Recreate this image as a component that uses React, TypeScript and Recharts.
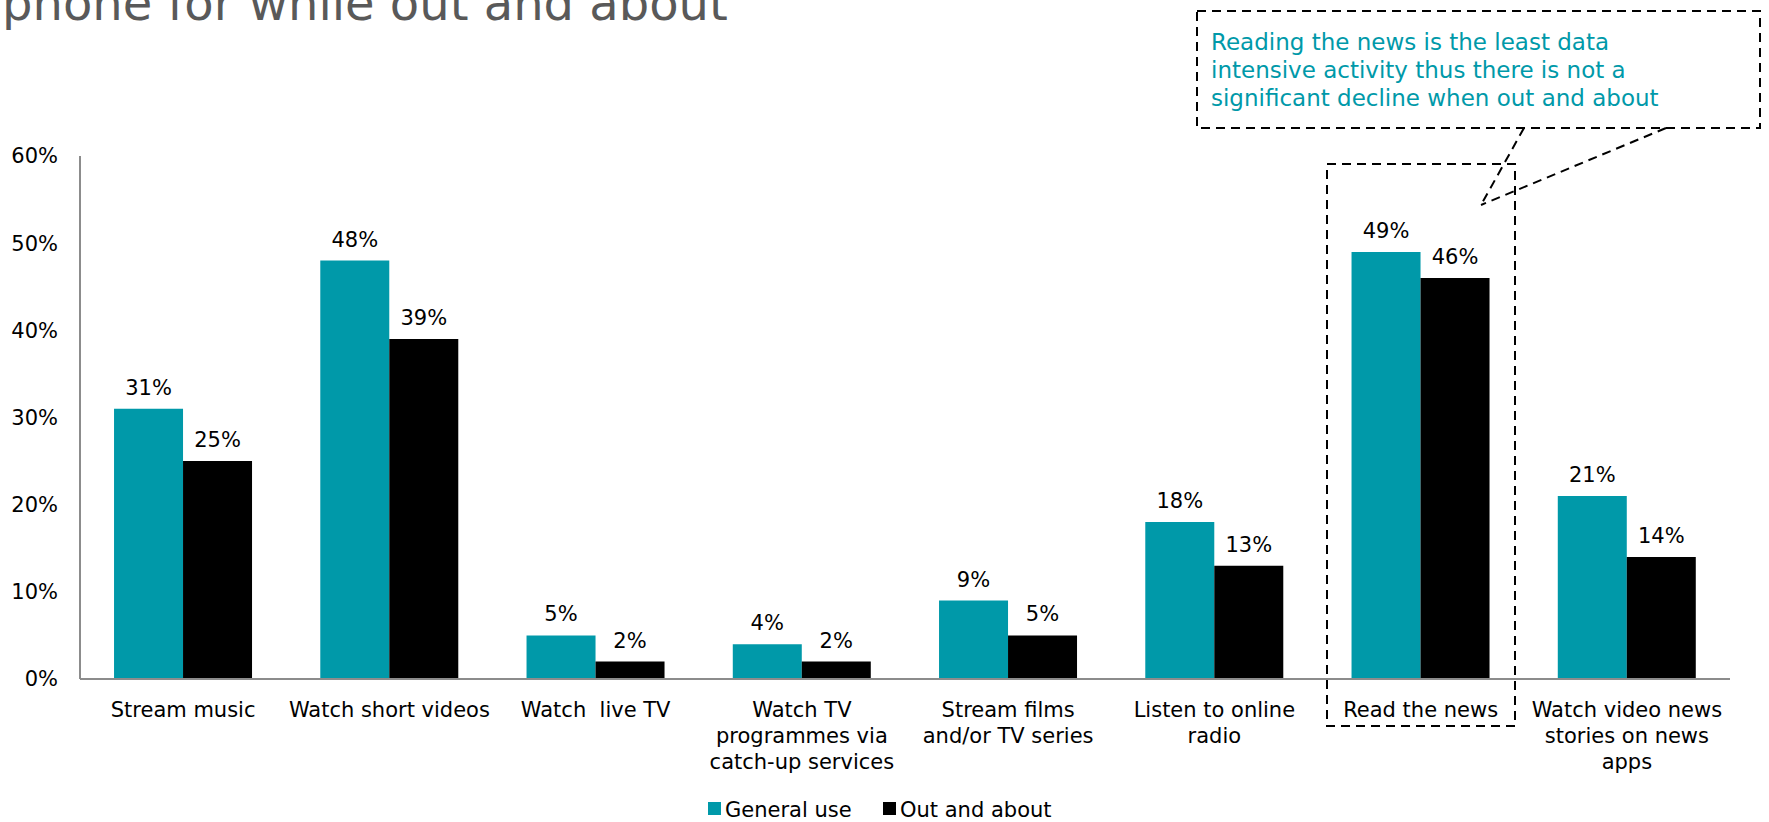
import React from "react";
import { Bar, BarChart, LabelList, XAxis, YAxis } from "recharts";

const categories = [
  "Stream music",
  "Watch short videos",
  "Watch  live TV",
  "Watch TV\nprogrammes via\ncatch-up services",
  "Stream films\nand/or TV series",
  "Listen to online\nradio",
  "Read the news",
  "Watch video news\nstories on news\napps",
];
const generalUse = [31, 48, 5, 4, 9, 18, 49, 21];
const outAndAbout = [25, 39, 2, 2, 5, 13, 46, 14];
const yTicks = [0, 10, 20, 30, 40, 50, 60];
const seriesNames = ["General use", "Out and about"];
const titleText = "phone for while out and about";
const calloutLines = [
  "Reading the news is the least data",
  "intensive activity thus there is not a",
  "significant decline when out and about",
];

const TEAL = "#0099a9";
const FONT = "Verdana, 'DejaVu Sans', sans-serif";

const data = categories.map((category, i) => ({
  category,
  general: generalUse[i],
  out: outAndAbout[i],
}));

function CategoryTick({ x, y, payload }: any) {
  const lines = String(payload.value).split("\n");
  return (
    <text x={x} y={y} textAnchor="middle" fill="#000" fontSize={21} fontFamily={FONT} style={{ whiteSpace: "pre" }}>
      {lines.map((line, i) => (
        <tspan key={i} x={x} y={y + 36 + i * 26}>
          {line}
        </tspan>
      ))}
    </text>
  );
}

export default function App() {
  return (
    <div style={{ position: "absolute", left: 0, top: 0, width: 1769, height: 822, background: "#fff", overflow: "hidden" }}>
      <BarChart
        width={1769}
        height={822}
        data={data}
        margin={{ top: 156, right: 39, bottom: 0, left: 0 }}
        barCategoryGap="16.5%"
        barGap={0}
      >
        <XAxis
          dataKey="category"
          height={143}
          interval={0}
          tickLine={false}
          tickSize={0}
          axisLine={{ stroke: "#8c8c8c", strokeWidth: 2 }}
          tick={<CategoryTick />}
        />
        <YAxis
          width={80}
          domain={[0, 60]}
          ticks={yTicks}
          tickLine={false}
          tickSize={0}
          tickMargin={22}
          axisLine={{ stroke: "#8c8c8c", strokeWidth: 2 }}
          tickFormatter={(v: number) => `${v}%`}
          tick={{ fill: "#000", fontSize: 21, fontFamily: FONT }}
        />
        <Bar dataKey="general" name={seriesNames[0]} fill={TEAL} isAnimationActive={false}>
          <LabelList dataKey="general" position="top" offset={14} formatter={(v: number) => `${v}%`} fill="#000" fontSize={21} fontFamily={FONT} />
        </Bar>
        <Bar dataKey="out" name={seriesNames[1]} fill="#000" isAnimationActive={false}>
          <LabelList dataKey="out" position="top" offset={14} formatter={(v: number) => `${v}%`} fill="#000" fontSize={21} fontFamily={FONT} />
        </Bar>
      </BarChart>

      <svg width={1769} height={822} style={{ position: "absolute", left: 0, top: 0, pointerEvents: "none" }}>
        {/* slide title, cut off at the top edge as in the source */}
        <text x={2} y={20} fill="#595959" fontSize={48} fontFamily={FONT}>
          {titleText}
        </text>

        {/* callout box */}
        <rect x={1197} y={11} width={563} height={117} fill="none" stroke="#000" strokeWidth={2} strokeDasharray="9 6" />
        {calloutLines.map((line, i) => (
          <text key={i} x={1211} y={50 + i * 28} fill={TEAL} fontSize={23} fontFamily={FONT}>
            {line}
          </text>
        ))}
        <line x1={1524} y1={128} x2={1481} y2={205} stroke="#000" strokeWidth={2} strokeDasharray="9 6" />
        <line x1={1666} y1={128} x2={1481} y2={205} stroke="#000" strokeWidth={2} strokeDasharray="9 6" />

        {/* highlight around Read the news */}
        <rect x={1327} y={164} width={188} height={562} fill="none" stroke="#000" strokeWidth={2} strokeDasharray="9 6" />

        {/* legend */}
        <rect x={708} y={802} width={13} height={13} fill={TEAL} />
        <text x={725} y={817} fill="#000" fontSize={21} fontFamily={FONT}>
          {seriesNames[0]}
        </text>
        <rect x={883} y={802} width={13} height={13} fill="#000" />
        <text x={900} y={817} fill="#000" fontSize={21} fontFamily={FONT}>
          {seriesNames[1]}
        </text>
      </svg>
    </div>
  );
}
